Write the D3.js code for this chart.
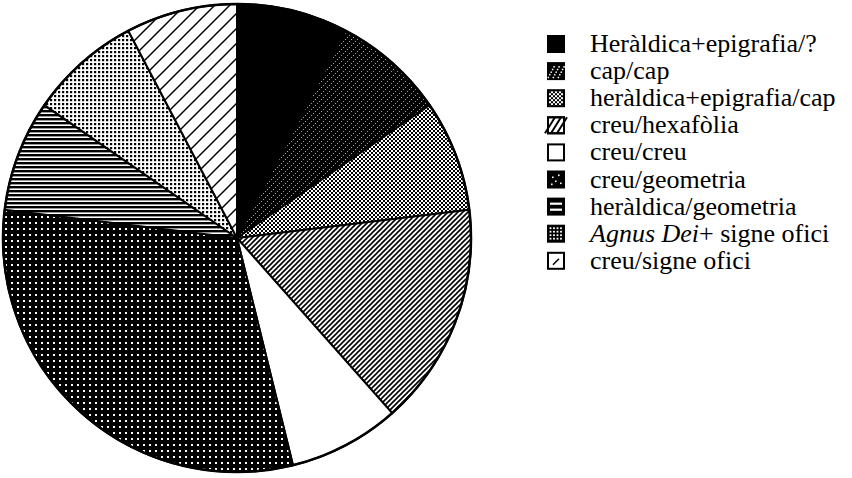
<!DOCTYPE html>
<html>
<head>
<meta charset="utf-8">
<script src="https://cdn.jsdelivr.net/npm/d3@7"></script>
<style>
  html, body { margin: 0; padding: 0; background: #fff; }
  svg { display: block; }
  .lt { font-family: "Liberation Serif", "DejaVu Serif", serif; }
</style>
</head>
<body>
<svg id="chart" width="852" height="478"></svg>
<script>
// ---- data ----
const categories = [
  "Heràldica+epigrafia/?",
  "cap/cap",
  "heràldica+epigrafia/cap",
  "creu/hexafòlia",
  "creu/creu",
  "creu/geometria",
  "heràldica/geometria",
  "Agnus Dei+ signe ofici",
  "creu/signe ofici"
];
const values = [1, 1, 1, 2, 1, 4, 1, 1, 1];
const patternIds = ["solid", "capcap", "checker", "hexa", "white", "geom", "hlines", "agnus", "signe"];

// ---- drawing ----
const svg = d3.select("#chart");
const defs = svg.append("defs");

function pat(id, w, h, bg) {
  const p = defs.append("pattern").attr("id", id).attr("patternUnits", "userSpaceOnUse")
    .attr("width", w).attr("height", h);
  p.append("rect").attr("width", w).attr("height", h).attr("fill", bg);
  return p;
}
function diag(p, s, color, width, dash) {
  [[-s, s, s, -s], [0, s, s, 0], [0, 2 * s, 2 * s, 0]].forEach(c => {
    const l = p.append("line").attr("x1", c[0]).attr("y1", c[1]).attr("x2", c[2]).attr("y2", c[3])
      .attr("stroke", color).attr("stroke-width", width);
    if (dash) l.attr("stroke-dasharray", dash);
  });
}
// pie patterns
pat("p-solid", 4, 4, "#000");
diag(pat("p-capcap", 6, 6, "#000"), 6, "#fff", 0.9, "1 1.8");
(function () {
  const p = pat("p-checker", 4, 4, "#fff");
  p.append("rect").attr("width", 2).attr("height", 2).attr("fill", "#000");
  p.append("rect").attr("x", 2).attr("y", 2).attr("width", 2).attr("height", 2).attr("fill", "#000");
})();
diag(pat("p-hexa", 5, 5, "#fff"), 5, "#000", 1.6);
pat("p-white", 4, 4, "#fff");
(function () {
  const p = pat("p-geom", 6, 6, "#000");
  p.append("rect").attr("x", 2).attr("y", 2).attr("width", 2).attr("height", 2).attr("fill", "#fff");
})();
(function () {
  const p = pat("p-hlines", 4, 4, "#fff");
  p.append("rect").attr("y", 0).attr("width", 4).attr("height", 2.4).attr("fill", "#000");
})();
(function () {
  const p = pat("p-agnus", 4, 4, "#fff");
  p.append("rect").attr("x", 1).attr("y", 1).attr("width", 2.2).attr("height", 2.2).attr("fill", "#000");
})();
diag(pat("p-signe", 15, 15, "#fff"), 15, "#000", 1.5);

const cx = 237, cy = 238, R = 234;
const pie = d3.pie().sort(null).value(d => d.v);
const arc = d3.arc().innerRadius(0).outerRadius(R);
const data = categories.map((c, i) => ({ c, v: values[i], p: patternIds[i] }));

const g = svg.append("g").attr("transform", `translate(${cx},${cy})`);
g.selectAll("path.slice").data(pie(data)).join("path")
  .attr("class", "slice")
  .attr("d", arc)
  .attr("fill", d => `url(#p-${d.data.p})`)
  .attr("stroke", "#000").attr("stroke-width", 2).attr("stroke-linejoin", "round");
g.append("circle").attr("r", R).attr("fill", "none").attr("stroke", "#000").attr("stroke-width", 2.5);

// legend
const lx = 547, ly0 = 44, step = 27.1, sq = 18;
const leg = svg.append("g");
const rows = leg.selectAll("g.row").data(data).join("g").attr("class", "row")
  .attr("transform", (d, i) => `translate(${lx},${ly0 + i * step})`);

function legendSwatch(sel, d) {
  const s = sel.append("g").attr("transform", `translate(0,${-sq / 2})`);
  const id = d.p;
  const box = (fill) => s.append("rect").attr("x", 1).attr("y", 1).attr("width", sq - 2).attr("height", sq - 2)
    .attr("fill", fill).attr("stroke", "#000").attr("stroke-width", 2);
  if (id === "solid") box("#000");
  else if (id === "capcap") {
    box("#000");
    [4, 9, 14].forEach(o => s.append("line").attr("x1", o - 3).attr("y1", sq - 2).attr("x2", o + 4).attr("y2", 3)
      .attr("stroke", "#fff").attr("stroke-width", 1.5).attr("stroke-dasharray", "1.5 1.5"));
  } else if (id === "checker") box("url(#p-checker)");
  else if (id === "hexa") {
    box("#fff");
    [3, 9, 15].forEach(o => s.append("line").attr("x1", o - 5).attr("y1", sq - 1).attr("x2", o + 5).attr("y2", 1)
      .attr("stroke", "#000").attr("stroke-width", 2));
    s.append("rect").attr("x", 1).attr("y", 1).attr("width", sq - 2).attr("height", sq - 2)
      .attr("fill", "none").attr("stroke", "#000").attr("stroke-width", 2);
  } else if (id === "white") box("#fff");
  else if (id === "geom") {
    box("#000");
    [[5, 6], [11, 4], [8, 10], [4, 13], [13, 12]].forEach(p => s.append("rect").attr("x", p[0]).attr("y", p[1])
      .attr("width", 1.6).attr("height", 1.6).attr("fill", "#fff"));
  } else if (id === "hlines") {
    box("#000");
    [5, 11].forEach(y => s.append("rect").attr("x", 3).attr("y", y).attr("width", sq - 6).attr("height", 2.2).attr("fill", "#fff"));
  } else if (id === "agnus") {
    box("#000");
    [3.5, 7, 10.5, 14].forEach(x => [3.5, 7, 10.5, 14].forEach(y => s.append("rect").attr("x", x - 0.9).attr("y", y - 0.9)
      .attr("width", 1.8).attr("height", 1.8).attr("fill", "#fff")));
  } else if (id === "signe") {
    box("#fff");
    s.append("line").attr("x1", 6).attr("y1", 13).attr("x2", 12).attr("y2", 7).attr("stroke", "#000").attr("stroke-width", 1.6);
  }
}
rows.each(function (d) { legendSwatch(d3.select(this), d); });

const txt = rows.append("text").attr("class", "lt").attr("x", 43).attr("y", 8)
  .attr("font-size", 26).attr("fill", "#000");
txt.each(function (d) {
  const t = d3.select(this);
  if (d.c.startsWith("Agnus Dei")) {
    t.append("tspan").attr("font-style", "italic").text("Agnus Dei");
    t.append("tspan").text(d.c.slice("Agnus Dei".length));
  } else t.text(d.c);
});
</script>
</body>
</html>
